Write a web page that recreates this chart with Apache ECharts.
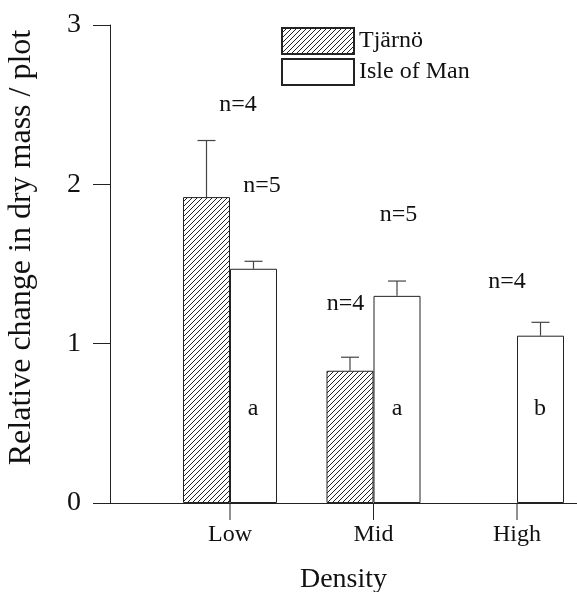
<!DOCTYPE html>
<html>
<head>
<meta charset="utf-8">
<script src="https://cdn.jsdelivr.net/npm/echarts@6/dist/echarts.min.js"></script>
<style>
html,body{margin:0;padding:0;background:#fff;}
#chart{width:577px;height:592px;}
</style>
</head>
<body>
<div id="chart"></div>
<script>
// ---- data ----
var categories = ['Low', 'Mid', 'High'];
var seriesNames = ['Tjärnö', 'Isle of Man'];
var tjarnoMean = [1.92, 0.83, null];
var tjarnoUpper = [2.275, 0.915, null];
var isleMean = [1.47, 1.30, 1.05];
var isleUpper = [1.517, 1.393, 1.134];
var yTicks = [0, 1, 2, 3];
// annotations: text, category index, y value
var annText = ['n=4', 'n=5', 'n=4', 'n=5', 'n=4', 'a', 'a', 'b'];
var annCat  = [0, 0, 1, 1, 2, 0, 1, 2];
var annY    = [2.50, 1.99, 1.25, 1.81, 1.39, 0.59, 0.59, 0.59];

// ---- styling ----
var FONT = 'Liberation Serif';
var BAR_W = 47;
var TICK_LEN = 17;
var annDx = [8, 32, -28, 25, -10, 23, 23.5, 23];

var hatch = document.createElement('canvas');
hatch.width = 5; hatch.height = 5;
var hc = hatch.getContext('2d');
hc.fillStyle = '#fff'; hc.fillRect(0, 0, 5, 5);
hc.strokeStyle = '#222'; hc.lineWidth = 1;
hc.beginPath();
hc.moveTo(0, 5); hc.lineTo(5, 0);
hc.moveTo(-1, 1); hc.lineTo(1, -1);
hc.moveTo(4, 6); hc.lineTo(6, 4);
hc.stroke();

var errData = [];
categories.forEach(function (c, i) {
  if (tjarnoMean[i] != null) errData.push([i, tjarnoMean[i], tjarnoUpper[i], -1]);
  if (isleMean[i] != null) errData.push([i, isleMean[i], isleUpper[i], 1]);
});
var annData = annText.map(function (t, i) { return [annCat[i], annY[i], t, annDx[i]]; });
var tickData = categories.map(function (c, i) { return [i, yTicks[0]]; });

var chart = echarts.init(document.getElementById('chart'), null, {renderer: 'canvas'});
chart.setOption({
  animation: false,
  backgroundColor: '#fff',
  grid: [
    {left: 110, right: 0, top: 25, bottom: 89, outerBoundsMode: 'none', containLabel: false},
    {left: 158.25, width: 430.5, top: 25, bottom: 89, outerBoundsMode: 'none', containLabel: false}
  ],
  legend: {
    data: seriesNames,
    orient: 'vertical',
    left: 281, top: 27, padding: 0,
    itemWidth: 72, itemHeight: 26, itemGap: 3,
    icon: 'rect',
    textStyle: {fontFamily: FONT, fontSize: 24, color: '#111'}
  },
  xAxis: [
    {
      type: 'value', gridIndex: 0, min: 0, max: 1,
      axisLine: {show: true, lineStyle: {color: '#222', width: 1}},
      axisTick: {show: false}, axisLabel: {show: false}, splitLine: {show: false},
      name: 'Density', nameLocation: 'middle', nameGap: 63,
      nameTextStyle: {fontFamily: FONT, fontSize: 28, color: '#111'}
    },
    {
      type: 'category', gridIndex: 1, data: categories, position: 'bottom',
      axisLine: {show: false},
      axisTick: {show: false},
      axisLabel: {fontFamily: FONT, fontSize: 24, color: '#111', margin: 20},
      splitLine: {show: false}
    }
  ],
  yAxis: [
    {
      type: 'value', gridIndex: 0, min: yTicks[0], max: yTicks[yTicks.length - 1], interval: 1,
      axisLine: {show: true, lineStyle: {color: '#222', width: 1}},
      axisTick: {show: true, length: TICK_LEN, lineStyle: {color: '#222', width: 1}},
      axisLabel: {fontFamily: FONT, fontSize: 28, color: '#111', margin: 29},
      splitLine: {show: false},
      name: 'Relative change in dry mass / plot', nameLocation: 'middle', nameGap: 72,
      nameTextStyle: {fontFamily: FONT, fontSize: 32, color: '#111', padding: [0, 0, 0, 33]}
    },
    {
      type: 'value', gridIndex: 1, min: yTicks[0], max: yTicks[yTicks.length - 1], show: false
    }
  ],
  series: [
    {
      name: seriesNames[0], type: 'bar', xAxisIndex: 1, yAxisIndex: 1,
      data: tjarnoMean.map(function (v) { return v == null ? '-' : v; }),
      barWidth: BAR_W, barGap: '0%',
      itemStyle: {color: {image: hatch, repeat: 'repeat'}, borderColor: '#222', borderWidth: 1}
    },
    {
      name: seriesNames[1], type: 'bar', xAxisIndex: 1, yAxisIndex: 1,
      data: isleMean,
      barWidth: BAR_W, barGap: '0%',
      itemStyle: {color: '#fff', borderColor: '#222', borderWidth: 1}
    },
    {
      type: 'custom', xAxisIndex: 1, yAxisIndex: 1, z: 5,
      data: errData,
      renderItem: function (params, api) {
        var base = api.coord([api.value(0), api.value(1)]);
        var top = api.coord([api.value(0), api.value(2)]);
        var x = base[0] + api.value(3) * BAR_W / 2;
        var st = {stroke: '#444', lineWidth: 1.2};
        return {type: 'group', children: [
          {type: 'line', shape: {x1: x, y1: base[1], x2: x, y2: top[1]}, style: st},
          {type: 'line', shape: {x1: x - 9, y1: top[1], x2: x + 9, y2: top[1]}, style: st}
        ]};
      }
    },
    {
      type: 'custom', xAxisIndex: 1, yAxisIndex: 1, z: 5, clip: false,
      data: tickData,
      renderItem: function (params, api) {
        var p = api.coord([api.value(0), api.value(1)]);
        return {type: 'line', shape: {x1: p[0], y1: p[1], x2: p[0], y2: p[1] + TICK_LEN},
          style: {stroke: '#222', lineWidth: 1}};
      }
    },
    {
      type: 'custom', xAxisIndex: 1, yAxisIndex: 1, z: 6, clip: false,
      data: annData,
      renderItem: function (params, api) {
        var p = api.coord([api.value(0), api.value(1)]);
        return {type: 'text', x: p[0] + api.value(3), y: p[1], style: {
          text: annText[params.dataIndex], fontFamily: FONT, fontSize: 24, fill: '#111',
          align: 'center', verticalAlign: 'middle'
        }};
      }
    }
  ]
});
</script>
</body>
</html>
